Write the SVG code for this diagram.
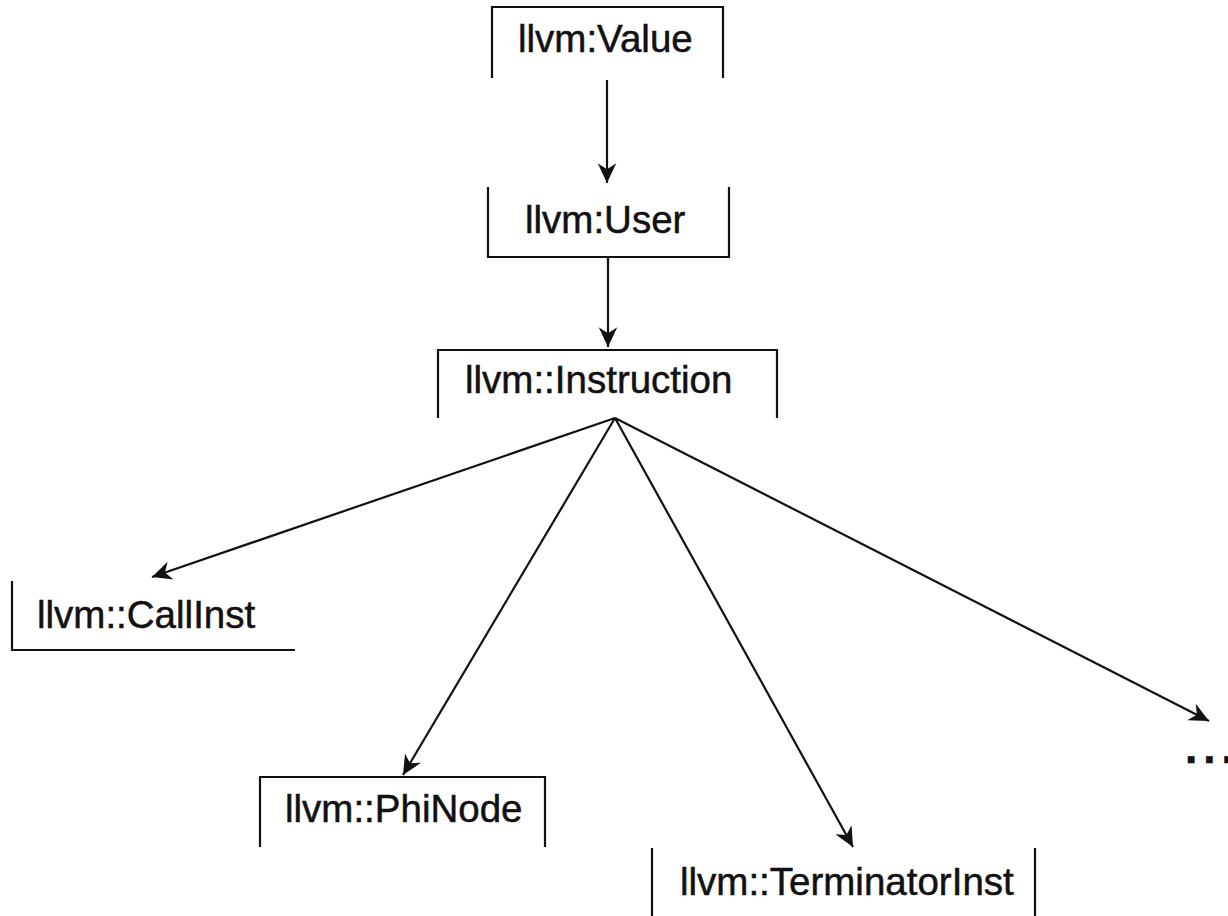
<svg xmlns="http://www.w3.org/2000/svg" width="1228" height="916" viewBox="0 0 1228 916">
  <style>
    .frame { fill: none; stroke: #111; stroke-width: 2.2; }
    .label { font-family: "Liberation Sans", Arial, sans-serif; font-size: 38.5px; fill: #111; stroke: #111; stroke-width: 0.5px; }
    .edge { fill: none; stroke: #111; stroke-width: 2.2; marker-end: url(#arrow); }
  </style>
  <defs>
    <marker id="arrow" markerUnits="userSpaceOnUse" markerWidth="24" markerHeight="24" viewBox="-20 -10 22 20" refX="0" refY="0" orient="auto">
      <path d="M0,0 L-18,-8.5 L-12.5,0 L-18,8.5 Z" fill="#111"/>
    </marker>
  </defs>
  <rect width="1228" height="916" fill="#fff"/>

  <g id="connectors">
    <line class="edge" x1="607" y1="80" x2="607" y2="183"/>
    <line class="edge" x1="608" y1="258" x2="608" y2="347"/>
    <line class="edge" x1="615" y1="418" x2="152" y2="577"/>
    <line class="edge" x1="615" y1="418" x2="403" y2="775"/>
    <line class="edge" x1="615" y1="418" x2="853" y2="847"/>
    <line class="edge" x1="615" y1="418" x2="1209" y2="721"/>
  </g>

  <g id="node-value">
    <path class="frame" d="M492,78 V7 H723 V78"/>
    <text class="label" x="518" y="52">llvm:Value</text>
  </g>

  <g id="node-user">
    <path class="frame" d="M488,187 V257 H729 V187"/>
    <text class="label" x="525" y="233">llvm:User</text>
  </g>

  <g id="node-instruction">
    <path class="frame" d="M438,418 V350 H777 V418"/>
    <text class="label" x="465" y="393">llvm::Instruction</text>
  </g>

  <g id="node-callinst">
    <path class="frame" d="M12,581 V650 H295"/>
    <text class="label" x="37" y="628">llvm::CallInst</text>
  </g>

  <g id="node-phinode">
    <path class="frame" d="M260,847 V777 H545 V847"/>
    <text class="label" x="285" y="822">llvm::PhiNode</text>
  </g>

  <g id="node-terminatorinst">
    <path class="frame" d="M652,848 V916 M1035,848 V916"/>
    <text class="label" x="680" y="895">llvm::TerminatorInst</text>
  </g>

  <g id="node-more">
    <text class="label" x="1185" y="763" style="font-weight:bold;font-size:44px;letter-spacing:6px">...</text>
  </g>
</svg>
